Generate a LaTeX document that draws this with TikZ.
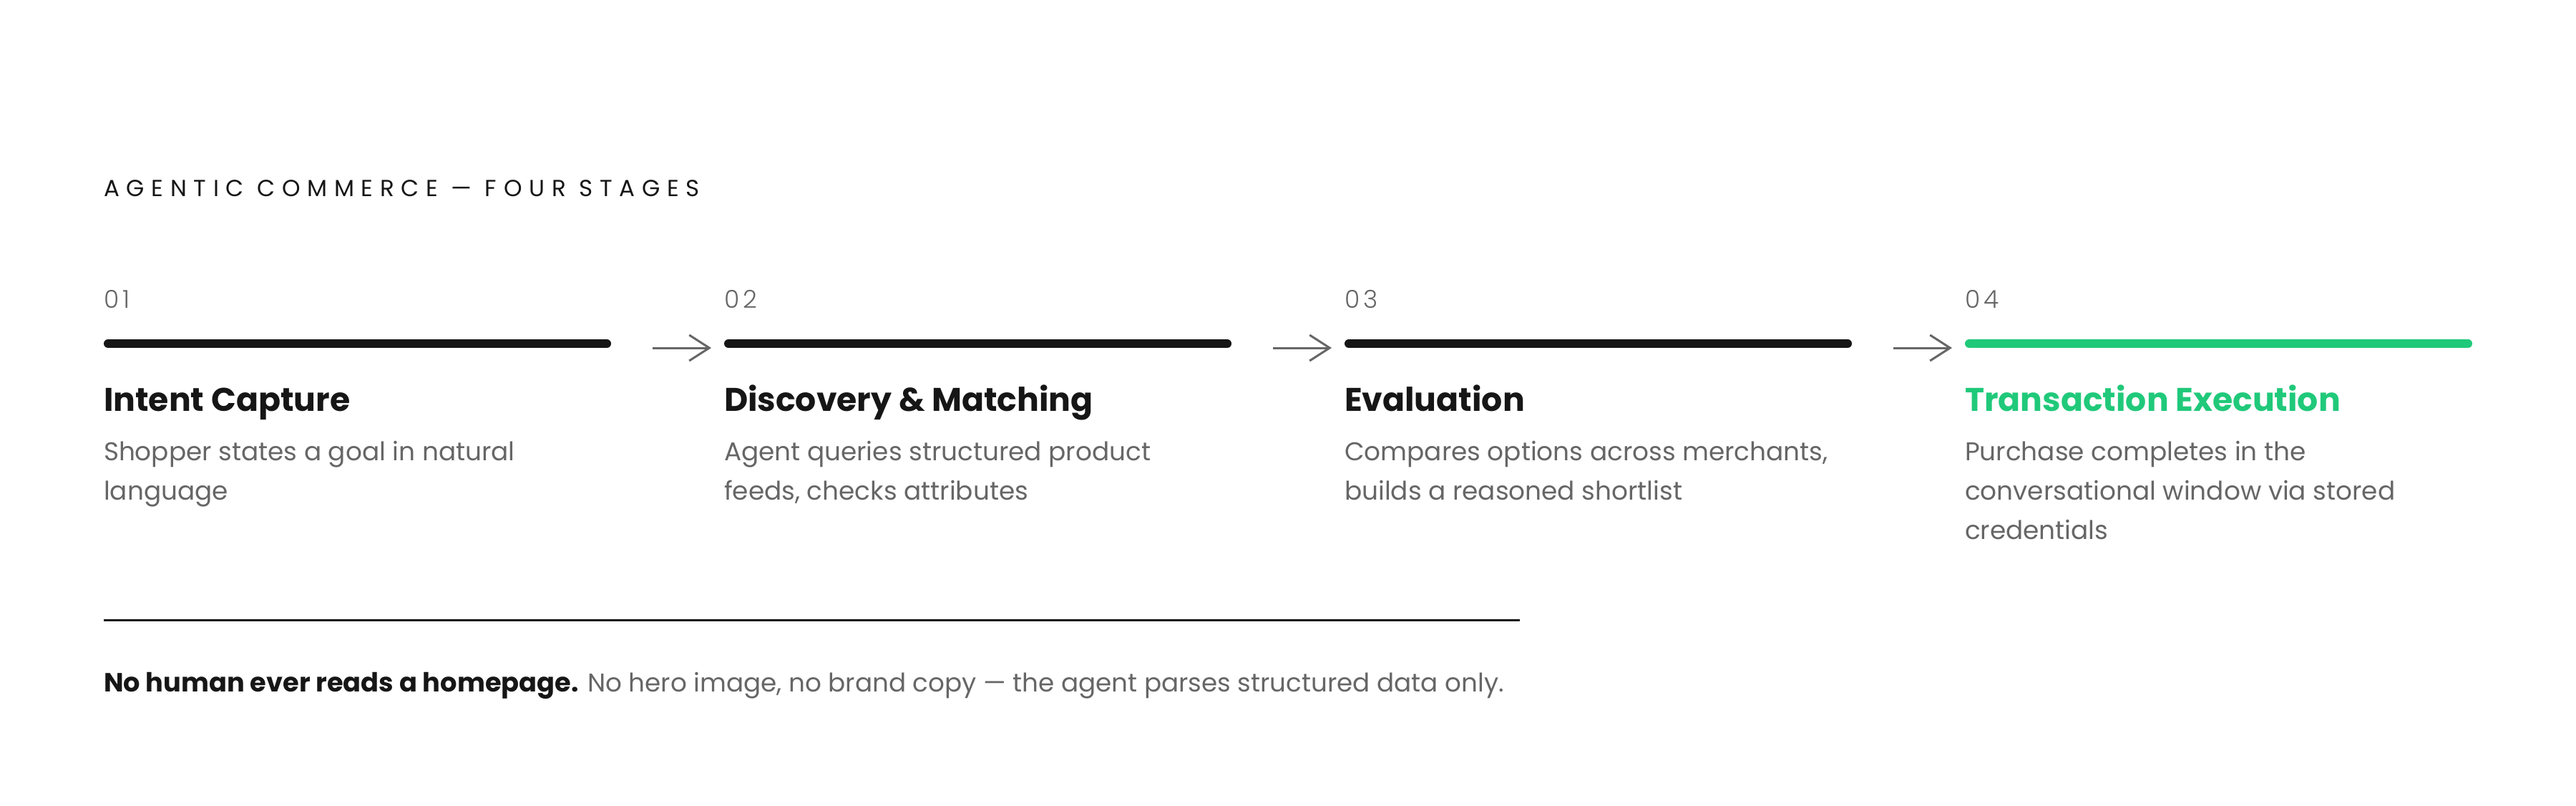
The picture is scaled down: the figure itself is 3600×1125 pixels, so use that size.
\documentclass[tikz,border=0pt]{standalone}
\usepackage{fontspec}
\setmainfont{Poppins}
\newfontfamily\trackfont[LetterSpace=30]{Poppins}
\newfontfamily\numfont[LetterSpace=16]{Poppins Light}
\usetikzlibrary{arrows.meta}
\definecolor{ink}{HTML}{161616}
\definecolor{mute}{HTML}{666666}
\definecolor{accent}{HTML}{20C97A}
\begin{document}
\begin{tikzpicture}[x=0.2pt,y=-0.2pt,
  txt/.style={anchor=base west,inner sep=0pt,outer sep=0pt},
  ttl/.style={txt,font=\trackfont\fontsize{6.5pt}{7pt}\selectfont,text=ink},
  num/.style={txt,font=\numfont\fontsize{6.9pt}{7pt}\selectfont,text=mute},
  head/.style={txt,font=\fontsize{9.15pt}{10pt}\selectfont\bfseries,text=ink},
  desc/.style={txt,font=\fontsize{7.17pt}{8pt}\selectfont,text=mute},
  bar/.style={line width=2.4pt,line cap=round,draw=ink},
  flow/.style={draw=mute,line width=0.6pt,-{Straight Barb[length=5.6pt,width=7.2pt,line width=0.6pt]}}
]
\useasboundingbox[fill=white] (0,0) rectangle (3600,1125);
\node[ttl] (title) at (145,274) {AGENTIC COMMERCE — FOUR STAGES};
% stage columns
\foreach \i/\x/\n in {1/145/01,2/1012/02,3/1879/03,4/2746/04}{
  \node[num] (n\i) at (\x,430) {\n};
  \coordinate (bs\i) at (\x+6,480);
  \coordinate (be\i) at (\x+703,480);
}
\draw[bar] (bs1) -- (be1);
\draw[bar] (bs2) -- (be2);
\draw[bar] (bs3) -- (be3);
\draw[bar,draw=accent] (bs4) -- (be4);
% arrows
\path (be1) ++(64,6) coordinate (as1) ++(82,0) coordinate (at1);
\path (be2) ++(64,6) coordinate (as2) ++(82,0) coordinate (at2);
\path (be3) ++(64,6) coordinate (as3) ++(82,0) coordinate (at3);
\draw[flow] (as1) -- (at1);
\draw[flow] (as2) -- (at2);
\draw[flow] (as3) -- (at3);
% headings
\node[head] (h1) at (145,574) {Intent Capture};
\node[head] (h2) at (1012,574) {Discovery \& Matching};
\node[head] (h3) at (1879,574) {Evaluation};
\node[head,text=accent] (h4) at (2746,574) {Transaction Execution};
% descriptions
\node[desc] (d1a) at (145,643) {Shopper states a goal in natural};
\node[desc] (d1b) at (145,698) {language};
\node[desc] (d2a) at (1012,643) {Agent queries structured product};
\node[desc] (d2b) at (1012,698) {feeds, checks attributes};
\node[desc] (d3a) at (1879,643) {Compares options across merchants,};
\node[desc] (d3b) at (1879,698) {builds a reasoned shortlist};
\node[desc] (d4a) at (2746,643) {Purchase completes in the};
\node[desc] (d4b) at (2746,698) {conversational window via stored};
\node[desc] (d4c) at (2746,753) {credentials};
% divider
\coordinate (ds) at (145,866);
\coordinate (de) at (2124,866);
\draw[draw=ink,line width=0.6pt] (ds) -- (de);
% footer
\node[desc,font=\fontsize{7.15pt}{8pt}\selectfont] (foot) at (145,966) {\textcolor{ink}{\fontsize{7.35pt}{8pt}\selectfont\bfseries No human ever reads a homepage.} No hero image, no brand copy — the agent parses structured data only.};
\end{tikzpicture}
\end{document}
